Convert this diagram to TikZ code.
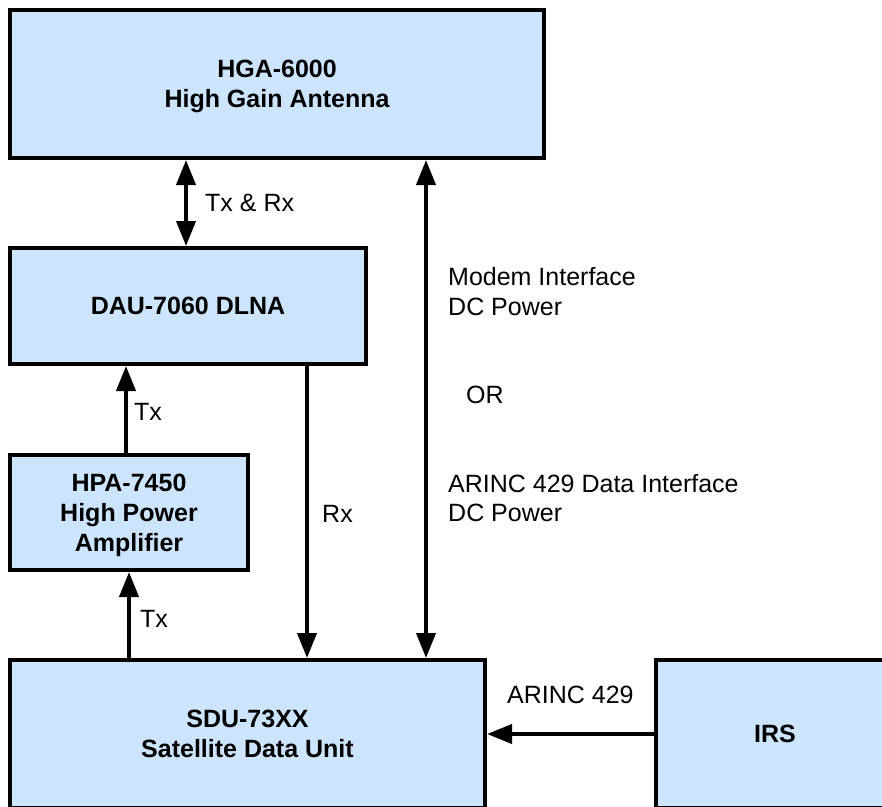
\documentclass[tikz,border=0pt]{standalone}
\usepackage{fontspec}
\setmainfont{Liberation Sans}
\usetikzlibrary{arrows.meta}
\definecolor{boxfill}{RGB}{204,228,252}
\begin{document}
\begin{tikzpicture}[x=1pt,y=-1pt,
  blk/.style={draw=black,fill=boxfill,line width=4pt,rectangle,align=center,
    font=\bfseries\fontsize{25}{30}\selectfont,inner sep=0pt,text depth=0pt},
  conn/.style={line width=4pt,-{Triangle[length=25pt,width=19pt]}},
  dconn/.style={line width=4pt,{Triangle[length=25pt,width=19pt]}-{Triangle[length=25pt,width=19pt]}},
  lbl/.style={font=\fontsize{25}{30}\selectfont,anchor=base west,inner sep=0pt}]
\useasboundingbox (0,0) rectangle (882,806);
\fill[white] (0,0) rectangle (882,806);
\clip (0,0) rectangle (882,806);
\node[blk, minimum width=534pt, minimum height=148pt] (hga) at (277,84) {HGA-6000\\High Gain Antenna};
\node[blk, minimum width=356pt, minimum height=116pt] (dau) at (188,306) {DAU-7060 DLNA};
\node[blk, minimum width=238pt, minimum height=115pt] (hpa) at (129,512.5) {HPA-7450\\High Power\\Amplifier};
\node[blk, minimum width=475pt, minimum height=148pt] (sdu) at (247.5,734) {SDU-73XX\\Satellite Data Unit};
\node[blk, minimum width=238pt, minimum height=148pt] (irs) at (775,734) {IRS};
\coordinate (xa) at (186,0);
\coordinate (xb) at (426,0);
\coordinate (xc) at (126,0);
\coordinate (xd) at (307,0);
\coordinate (xe) at (129,0);
\draw[dconn] (hga.south -| xa) -- (dau.north -| xa);
\draw[dconn] (hga.south -| xb) -- (sdu.north -| xb);
\draw[conn] (hpa.north -| xc) -- (dau.south -| xc);
\draw[conn] (dau.south -| xd) -- (sdu.north -| xd);
\draw[conn] (sdu.north -| xe) -- (hpa.south -| xe);
\draw[conn] (irs.west) -- (sdu.east);
\node[lbl] (l1) at (205,211) {Tx \& Rx};
\node[lbl] (l2) at (448,285) {Modem Interface};
\node[lbl] (l3) at (448,315) {DC Power};
\node[lbl] (l4) at (466,403) {OR};
\node[lbl] (l5) at (448,492) {ARINC 429 Data Interface};
\node[lbl] (l6) at (448,521) {DC Power};
\node[lbl] (l7) at (134,420) {Tx};
\node[lbl] (l8) at (322,522) {Rx};
\node[lbl] (l9) at (140,627) {Tx};
\node[lbl] (l10) at (507,703) {ARINC 429};
\end{tikzpicture}
\end{document}
